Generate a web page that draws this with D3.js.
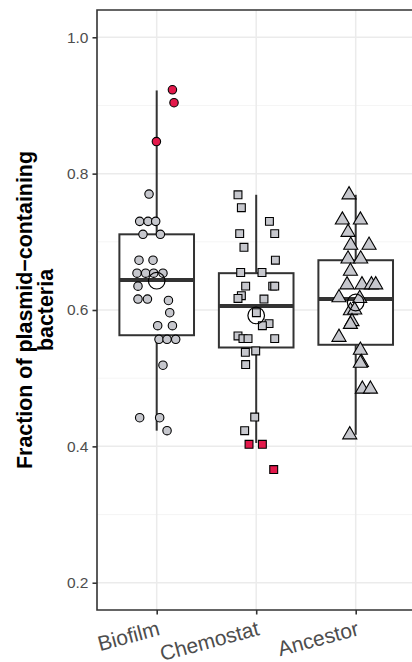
<!DOCTYPE html>
<html>
<head>
<meta charset="utf-8">
<script src="https://cdn.jsdelivr.net/npm/d3@7"></script>
<style>
  html, body { margin: 0; background: #fff; overflow: hidden; }
  svg { display: block; overflow: hidden; font-family: "Liberation Sans", Arial, sans-serif; }
</style>
</head>
<body>
<div id="chart"></div>
<script>
const categories = ["Biofilm", "Chemostat", "Ancestor"];

// values; jitter is the horizontal offset in category units
const biofilmValues = [0.770, 0.730, 0.730, 0.730, 0.711, 0.711, 0.673, 0.673, 0.654, 0.654,
  0.654, 0.654, 0.635, 0.616, 0.616, 0.614, 0.596, 0.577, 0.577, 0.557, 0.557, 0.557,
  0.519, 0.442, 0.442, 0.423];
const biofilmJitter = [-0.077, -0.171, -0.087, -0.010, -0.138, 0.037, -0.178, -0.037, -0.198, -0.111,
  -0.030, 0.063, -0.188, -0.188, -0.093, 0.118, 0.131, 0.010, 0.158, 0.023, 0.104, 0.191,
  0.063, -0.171, 0.030, 0.104];
const biofilmRed = [0.923, 0.904, 0.847];
const biofilmRedJitter = [0.158, 0.174, -0.003];

const chemostatValues = [0.769, 0.750, 0.730, 0.712, 0.712, 0.692, 0.673, 0.655, 0.655, 0.635,
  0.635, 0.635, 0.621, 0.617, 0.616, 0.596, 0.580, 0.577, 0.562, 0.558, 0.558, 0.558,
  0.538, 0.540, 0.520, 0.443, 0.423];
const chemostatJitter = [-0.183, -0.149, 0.133, -0.166, 0.186, -0.123, 0.193, -0.156, 0.058, -0.106,
  0.166, 0.186, -0.149, -0.183, 0.078, 0.002, 0.129, 0.062, -0.183, -0.133, -0.082, 0.186,
  -0.109, -0.005, -0.106, -0.015, -0.116];
const chemostatRed = [0.403, 0.403, 0.366];
const chemostatRedJitter = [-0.072, 0.062, 0.176];

const ancestorValues = [0.769, 0.732, 0.732, 0.714, 0.695, 0.695, 0.675, 0.675, 0.657, 0.637,
  0.637, 0.637, 0.637, 0.618, 0.617, 0.599, 0.600, 0.583, 0.579, 0.560, 0.541, 0.523,
  0.522, 0.484, 0.484, 0.417];
const ancestorJitter = [-0.067, -0.134, 0.047, -0.077, -0.050, 0.134, -0.077, 0.050, -0.053, -0.087,
  0.063, 0.158, 0.201, -0.168, 0.040, -0.053, -0.010, -0.037, -0.053, -0.168, 0.047, 0.057,
  0.047, 0.067, 0.148, -0.060];

// box statistics per category
const q1 = [0.563, 0.545, 0.549];
const medians = [0.644, 0.606, 0.616];
const q3 = [0.711, 0.654, 0.673];
const whiskerLow = [0.423, 0.405, 0.417];
const whiskerHigh = [0.922, 0.769, 0.769];
const means = [0.643, 0.592, 0.611];

const yTicks = [0.2, 0.4, 0.6, 0.8, 1.0];
const yMinorTicks = [0.3, 0.5, 0.7, 0.9];

const width = 412, height = 662;
const panel = {left: 97, top: 10, bottom: 610, right: 415.4};

const svg = d3.select("#chart")
  .append("svg")
  .attr("width", width)
  .attr("height", height);

const x = d3.scalePoint()
  .domain(categories)
  .range([panel.left, panel.right])
  .padding(0.6);
const step = x.step();

const y = d3.scaleLinear()
  .domain([0.16, 1.04])
  .range([panel.bottom, panel.top]);

// grid
const grid = svg.append("g");
grid.selectAll(".minor")
  .data(yMinorTicks)
  .enter().append("line")
    .attr("x1", panel.left).attr("x2", panel.right)
    .attr("y1", d => y(d)).attr("y2", d => y(d))
    .attr("stroke", "#f2f2f2")
    .attr("stroke-width", 0.8);
grid.selectAll(".major")
  .data(yTicks)
  .enter().append("line")
    .attr("x1", panel.left).attr("x2", panel.right)
    .attr("y1", d => y(d)).attr("y2", d => y(d))
    .attr("stroke", "#ebebeb")
    .attr("stroke-width", 1.5);
grid.selectAll(".vmajor")
  .data(categories)
  .enter().append("line")
    .attr("x1", d => x(d)).attr("x2", d => x(d))
    .attr("y1", panel.top).attr("y2", panel.bottom)
    .attr("stroke", "#ebebeb")
    .attr("stroke-width", 1.5);

// boxplots
const boxW = step * 0.75;
const boxes = svg.append("g")
  .selectAll("g")
  .data(categories)
  .enter().append("g");

boxes.append("line")
  .attr("x1", d => x(d)).attr("x2", d => x(d))
  .attr("y1", (d, i) => y(q3[i])).attr("y2", (d, i) => y(whiskerHigh[i]))
  .attr("stroke", "#333").attr("stroke-width", 2);
boxes.append("line")
  .attr("x1", d => x(d)).attr("x2", d => x(d))
  .attr("y1", (d, i) => y(q1[i])).attr("y2", (d, i) => y(whiskerLow[i]))
  .attr("stroke", "#333").attr("stroke-width", 2);
boxes.append("rect")
  .attr("x", d => x(d) - boxW / 2)
  .attr("width", boxW)
  .attr("y", (d, i) => y(q3[i]))
  .attr("height", (d, i) => y(q1[i]) - y(q3[i]))
  .attr("fill", "#fff")
  .attr("stroke", "#333").attr("stroke-width", 2);
boxes.append("line")
  .attr("x1", d => x(d) - boxW / 2).attr("x2", d => x(d) + boxW / 2)
  .attr("y1", (d, i) => y(medians[i])).attr("y2", (d, i) => y(medians[i]))
  .attr("stroke", "#333").attr("stroke-width", 4);

// jittered points
const groups = [
  {cat: "Biofilm", shape: d3.symbolCircle, size: 56, values: biofilmValues, jitter: biofilmJitter, red: biofilmRed, redJitter: biofilmRedJitter},
  {cat: "Chemostat", shape: d3.symbolSquare, size: 62, values: chemostatValues, jitter: chemostatJitter, red: chemostatRed, redJitter: chemostatRedJitter},
  {cat: "Ancestor", shape: d3.symbolTriangle, size: 86, values: ancestorValues, jitter: ancestorJitter, red: [], redJitter: []},
];

const pts = svg.append("g");
groups.forEach(g => {
  const rows = g.values.map((v, i) => ({v, j: g.jitter[i], fill: "#c6c7cd"}))
    .concat(g.red.map((v, i) => ({v, j: g.redJitter[i], fill: "#e3194b"})));
  pts.selectAll(null)
    .data(rows)
    .enter().append("path")
      .attr("d", d3.symbol().type(g.shape).size(g.size))
      .attr("transform", d => `translate(${x(g.cat) + d.j * step}, ${y(d.v)})`)
      .attr("fill", d => d.fill)
      .attr("stroke", "#000")
      .attr("stroke-width", 1.1);
});

// means
svg.append("g")
  .selectAll("circle")
  .data(categories)
  .enter().append("circle")
    .attr("cx", d => x(d))
    .attr("cy", (d, i) => y(means[i]))
    .attr("r", 8.3)
    .attr("fill", "none")
    .attr("stroke", "#000")
    .attr("stroke-width", 1.2);

// panel border (right side falls outside the window)
svg.append("path")
  .attr("d", `M${panel.right},${panel.top}H${panel.left}V${panel.bottom}H${panel.right}`)
  .attr("fill", "none")
  .attr("stroke", "#333")
  .attr("stroke-width", 1.6);

// y axis
const yAxis = svg.append("g")
  .attr("transform", `translate(${panel.left}, 0)`)
  .call(d3.axisLeft(y).tickValues(yTicks).tickFormat(d3.format(".1f")).tickSize(4.5).tickPadding(4));
yAxis.select(".domain").remove();
yAxis.selectAll("line").attr("stroke", "#333").attr("stroke-width", 1.6);
yAxis.selectAll("text").attr("fill", "#4d4d4d").style("font-size", "15.5px");

// x axis
const xAxis = svg.append("g")
  .attr("transform", `translate(0, ${panel.bottom})`)
  .call(d3.axisBottom(x).tickSize(4.5).tickFormat(""));
xAxis.select(".domain").remove();
xAxis.selectAll("line").attr("stroke", "#333").attr("stroke-width", 1.6);

svg.append("g")
  .selectAll("text")
  .data(categories)
  .enter().append("text")
    .attr("transform", d => `translate(${x(d)}, ${panel.bottom + 9}) rotate(-15)`)
    .attr("text-anchor", "end")
    .attr("dy", "0.78em")
    .attr("fill", "#4d4d4d")
    .style("font-size", "21px")
    .text(d => d);

// y title
const title = svg.append("text")
  .attr("transform", `translate(0, ${(panel.top + panel.bottom) / 2}) rotate(-90)`)
  .attr("text-anchor", "middle")
  .style("font-size", "21.4px")
  .style("font-weight", "bold");
title.append("tspan").attr("x", 0).attr("y", 32).text("Fraction of plasmid\u2212containing");
title.append("tspan").attr("x", 0).attr("y", 53).text("bacteria");
</script>
</body>
</html>
